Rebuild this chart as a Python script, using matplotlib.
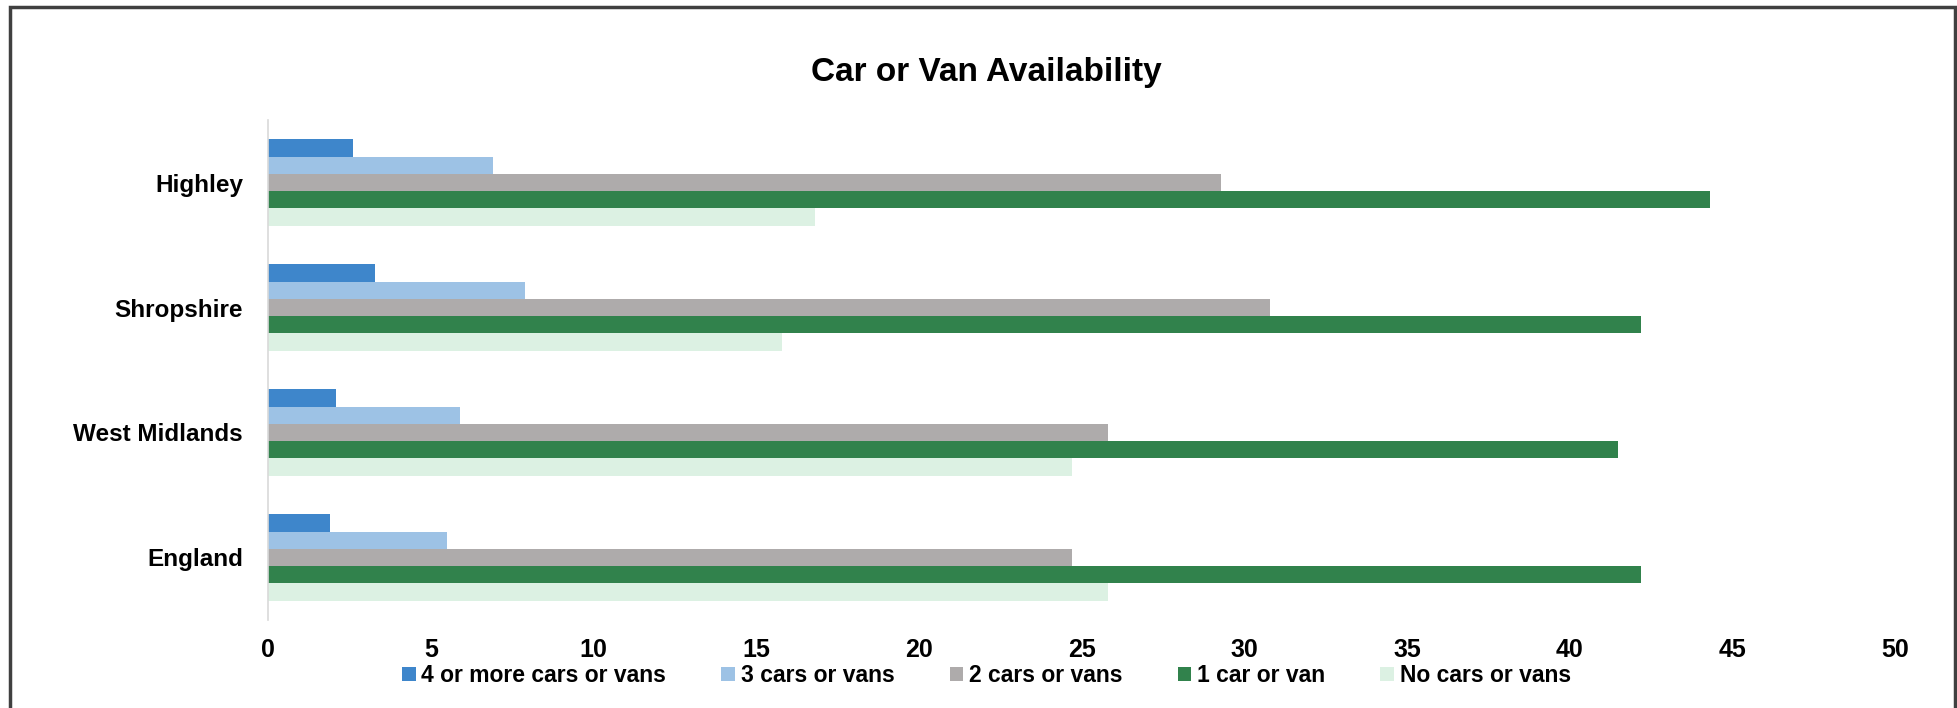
#!/usr/bin/env python

import matplotlib
matplotlib.use('Agg')
import numpy
import matplotlib.pyplot as plt
from matplotlib.patches import Rectangle

plt.rcParams['font.family'] = ['Liberation Sans', 'DejaVu Sans']

areas = ['Highley', 'Shropshire', 'West Midlands', 'England']
series_names = ['4 or more cars or vans', '3 cars or vans', '2 cars or vans',
                '1 car or van', 'No cars or vans']
four_plus = [2.6, 3.3, 2.1, 1.9]
three_cars = [6.9, 7.9, 5.9, 5.5]
two_cars = [29.3, 30.8, 25.8, 24.7]
one_car = [44.3, 42.2, 41.5, 42.2]
no_cars = [16.8, 15.8, 24.7, 25.8]
xticks = [0, 5, 10, 15, 20, 25, 30, 35, 40, 45, 50]

colours = ['#3E86CB', '#9DC2E5', '#AEABAB', '#31824C', '#DCF1E3']

fig = plt.figure()
fig.set_size_inches((19.57, 7.08))
ax = fig.add_axes([0.137, 0.1243, 0.8313, 0.7062])

y = numpy.arange(len(areas))
h = 0.138
for i, vals in enumerate([four_plus, three_cars, two_cars, one_car, no_cars]):
    ax.barh(y + (i - 2) * h, vals, height=h, color=colours[i],
            label=series_names[i])

ax.set_ylim(-0.5, len(areas) - 0.5)
ax.invert_yaxis()
ax.set_xlim(0, 50)
ax.set_xticks(xticks)
ax.set_yticks(y)
ax.set_yticklabels(areas, fontsize=17.5, fontweight='bold')
ax.set_xticklabels([str(t) for t in xticks], fontsize=18, fontweight='bold')
ax.tick_params(axis='both', length=0)
ax.tick_params(axis='y', pad=18)
ax.tick_params(axis='x', pad=13)
for s in ['top', 'right', 'bottom']:
    ax.spines[s].set_visible(False)
ax.spines['left'].set_color('#D9D9D9')
ax.spines['left'].set_linewidth(1.2)

fig.text(0.504, 0.897, 'Car or Van Availability', fontsize=24,
         fontweight='bold', ha='center', va='center')

fig.legend(loc='center', bbox_to_anchor=(0.504, 0.046), ncol=5,
           frameon=False, prop={'size': 16.5, 'weight': 'bold'},
           handlelength=0.6, handleheight=0.6,
           handletextpad=0.25, columnspacing=2.4)

# outer frame
fig.patches.append(Rectangle((0.0051, -0.02), 0.9941, 1.0101,
                             transform=fig.transFigure, fill=False,
                             edgecolor='#404040', linewidth=2.5))

plt.savefig('out.png', dpi=100)
